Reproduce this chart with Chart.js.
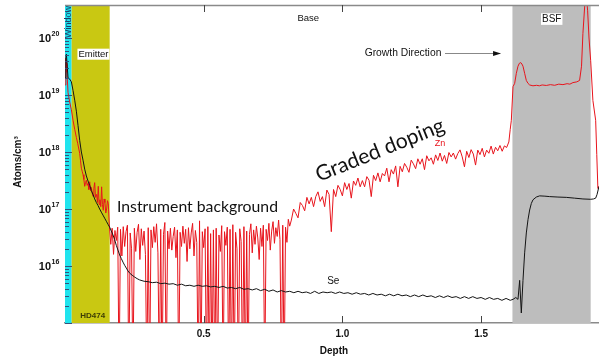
<!DOCTYPE html>
<html><head><meta charset="utf-8">
<script src="https://cdn.jsdelivr.net/npm/chart.js@4.4.1/dist/chart.umd.min.js"></script>
<style>html,body{margin:0;padding:0;background:#fff;overflow:hidden}canvas{display:block}</style>
</head><body>
<canvas id="c" width="599" height="360"></canvas>
<script>
// ---------------- DATA ----------------
const layerNames = ['Window', 'Emitter', 'Base', 'BSF'];
const layerStart = [0, 0.024, 0.161, 1.613];
const layerEnd   = [0.024, 0.161, 1.613, 1.895];

const xTickValues = [0.5, 1.0, 1.5];
const yTickExponents = [16, 17, 18, 19, 20];

// Se (black)
const seEmitDepth = [0.000,0.003,0.005,0.008,0.011,0.017,0.023,0.029,0.035,0.041,0.047,0.053,0.059,0.065,0.071,0.077,0.083,0.089,0.095,0.101,0.107,0.113,0.119,0.125,0.131,0.137,0.143,0.149,0.155,0.161,0.167,0.173,0.179,0.185,0.191,0.197,0.203,0.209,0.215,0.221,0.227,0.233,0.242,0.251,0.260,0.269];
const seEmitConc  = [2.0e19,4.5e19,5.2e19,3.2e19,2.0e19,1.9e19,1.7e19,1.2e19,8.1e18,5.2e18,2.9e18,1.6e18,1.0e18,7.2e17,5.0e17,3.8e17,3.1e17,2.6e17,2.1e17,1.8e17,1.5e17,1.3e17,1.15e17,1.0e17,8.8e16,7.8e16,6.9e16,6.1e16,5.4e16,4.8e16,4.1e16,3.5e16,2.9e16,2.3e16,1.9e16,1.56e16,1.35e16,1.17e16,1.03e16,9.2e15,8.2e15,7.5e15,6.9e15,6.4e15,6.0e15,5.7e15];
const seBaseStart = 0.285, seBaseStep = 0.015;
const seBaseConc = [
 5.4e15,5.3e15,5.1e15,5.2e15,4.9e15,5.0e15,4.8e15,4.9e15,4.6e15,4.8e15,
 4.5e15,4.6e15,4.4e15,4.6e15,4.4e15,4.5e15,4.3e15,4.4e15,4.2e15,4.4e15,
 4.1e15,4.2e15,4.0e15,4.2e15,3.9e15,4.0e15,3.8e15,4.0e15,3.7e15,3.9e15,
 3.6e15,3.8e15,3.5e15,3.7e15,3.5e15,3.6e15,3.4e15,3.6e15,3.4e15,3.5e15,
 3.3e15,3.6e15,3.3e15,3.5e15,3.4e15,3.5e15,3.3e15,3.5e15,3.3e15,3.4e15,
 3.2e15,3.4e15,3.2e15,3.3e15,3.1e15,3.3e15,3.1e15,3.2e15,3.0e15,3.2e15,
 3.0e15,3.2e15,3.0e15,3.1e15,2.9e15,3.1e15,2.9e15,3.1e15,2.9e15,3.0e15,
 2.8e15,3.0e15,2.8e15,3.0e15,2.8e15,2.9e15,2.7e15,2.9e15,2.7e15,2.9e15,
 2.7e15,2.8e15,2.6e15,2.8e15,2.6e15,2.7e15,2.5e15,2.7e15,2.5e15];
const seBsfDepth = [1.615,1.625,1.633,1.639,1.645,1.651,1.657,1.663,1.669,1.675,1.681,1.687,1.699,1.711,1.730,1.747,1.777,1.807,1.837,1.867,1.895,1.905,1.913,1.918,1.925];
const seBsfConc  = [2.6e15,2.8e15,2.6e15,5.6e15,1.5e15,5.6e15,1.7e16,3.8e16,6.5e16,9.6e16,1.25e17,1.45e17,1.62e17,1.7e17,1.68e17,1.65e17,1.62e17,1.6e17,1.55e17,1.5e17,1.48e17,1.5e17,1.55e17,1.8e17,2.5e17];

// Zn (red)
const znEmitDepth = [0.000,0.003,0.005,0.007,0.011,0.017,0.023,0.029,0.035,0.041,0.046,0.053,0.056,0.059,0.062,0.065,0.068,0.071,0.074,0.077,0.080,0.083,0.086,0.089,0.092,0.095,0.098,0.101,0.104,0.107,0.110,0.114,0.117,0.120,0.123,0.126,0.129,0.132,0.135,0.138,0.141,0.144,0.147,0.150,0.153,0.156];
const znEmitConc  = [1.5e19,4.4e19,3.6e19,2.5e19,1.1e19,7.5e18,5.5e18,3.6e18,2.5e18,1.8e18,1.4e18,9.5e17,7.0e17,5.2e17,4.6e17,4.0e17,3.3e17,2.5e17,2.9e17,3.2e17,2.6e17,2.8e17,2.2e17,3.0e17,2.1e17,2.4e17,1.9e17,1.66e17,2.3e17,2.9e17,1.6e17,1.8e17,1.3e17,2.5e17,1.2e17,1.45e17,1.1e17,2.45e17,1.2e17,9.5e16,1.5e17,1.3e17,8.5e16,1.0e17,1.4e17,1.26e17];
const znBgStart = 0.160, znBgStep = 0.005;
const znBgConc = [
 5.0e16,2.4e16,4.6e16,1.6e16,4.2e16,2.8e16,4.8e16,1e14,4.4e16,1.5e16,
 4.9e16,2.2e16,4.0e16,5.2e16,1e14,3.8e16,2.0e16,1e14,4.6e16,1.8e16,
 3.9e16,5.4e16,1.3e16,4.5e16,2.3e16,4.1e16,1.6e16,1e14,4.7e16,1e14,
 4.3e16,2.1e16,4.9e16,2.6e16,5.5e16,1.7e16,1e14,4.4e16,1e14,3.6e16,
 5.8e16,1e14,4.1e16,2.0e16,4.6e16,1.9e16,3.3e16,4.8e16,1.4e16,4.3e16,
 1e14,3.9e16,2.2e16,5.0e16,2.5e16,4.4e16,1.2e16,4.7e16,2.0e16,3.8e16,
 5.6e16,1.5e16,4.2e16,2.6e16,1e14,6.2e16,1e14,4.0e16,2.1e16,4.5e16,
 1e14,4.9e16,1e14,3.7e16,1e14,4.3e16,1e14,4.6e16,1e14,3.5e16,
 1.8e16,5.1e16,1e14,4.0e16,2.3e16,4.8e16,1e14,4.4e16,1e14,5.3e16,
 1e14,3.9e16,2.0e16,1e14,4.5e16,2.7e16,1e14,4.9e16,1e14,4.1e16,
 1e14,3.6e16,5.5e16,1.7e16,4.3e16,2.4e16,5.0e16,3.1e16,1.3e16,4.6e16,
 2.2e16,5.2e16,1e14,4.4e16,2.8e16,5.6e16,1.9e16,4.1e16,6.0e16,2.5e16,
 4.7e16,3.3e16,6.4e16,2.9e16,1e14,5.2e16,1e14,4.8e16,2.6e16,6.6e16,
 5.0e16];
const znGradStart = 0.816, znGradStep = 0.008;
const znGradConc = [
 6.4e16,1.0e17,8.4e16,7.0e16,1.3e17,1.15e17,9.3e16,1.6e17,1.23e17,1.6e17,
 1.1e17,1.65e17,2.0e17,1.36e17,1.65e17,1.1e17,2.15e17,1.8e17,4.0e16,2.2e17,
 1.65e17,2.6e17,2.2e17,1.7e17,2.9e17,2.2e17,2.8e17,1.55e17,3.1e17,2.6e17,
 3.5e17,2.45e17,3.15e17,2.45e17,3.7e17,3.2e17,1.65e17,3.9e17,3.15e17,4.3e17,
 3.0e17,4.2e17,3.8e17,5.2e17,3.0e17,4.9e17,4.1e17,5.7e17,2.45e17,5.6e17,
 4.5e17,6.3e17,5.4e17,4.4e17,7.2e17,6.2e17,5.1e17,7.6e17,6.1e17,7.6e17,
 4.9e17,8.6e17,7.0e17,7.9e17,6.1e17,8.9e17,7.1e17,9.6e17,6.9e17,8.7e17,
 6.3e17,9.8e17,8.2e17,9.6e17,7.5e17,9.4e17,1.09e18,8.2e17,5.5e17,1.03e18,
 8.0e17,1.1e18,9.2e17,5.9e17,1.08e18,9.0e17,1.16e18,8.2e17,1.08e18,9.5e17,
 1.27e18,9.2e17,1.21e18,1.05e18,1.3e18,1.03e18,1.28e18,1.2e18,1.5e18];
const znBsfDepth = [1.605,1.609,1.615,1.621,1.627,1.633,1.638,1.643,1.647,1.651,1.657,1.663,1.669,1.675,1.687,1.700,1.710,1.720,1.735,1.750,1.765,1.780,1.795,1.810,1.820,1.831,1.845,1.855,1.862,1.867,1.874,1.879,1.884,1.889,1.895,1.903,1.913,1.917,1.921,1.925];
const znBsfConc  = [2.5e18,3.6e18,1.4e19,1.6e19,2.4e19,3.2e19,3.6e19,3.7e19,3.5e19,3.2e19,2.4e19,1.8e19,1.6e19,1.5e19,1.45e19,1.48e19,1.45e19,1.5e19,1.47e19,1.52e19,1.48e19,1.55e19,1.52e19,1.58e19,1.55e19,1.65e19,1.7e19,1.8e19,3.2e19,1.2e20,4e20,6e20,3e20,1e20,4e19,8e18,3.6e18,9e17,2.3e17,2.5e17];

// ---------------- STYLE / LAYOUT ----------------
const layerColors = {Window:'#20e4ee', Emitter:'#c9c812', Base:null, BSF:'#bdbdbd'};
const FONT = '"Liberation Sans", Arial, Helvetica, sans-serif';
const BIG = 'Lato, "Open Sans", sans-serif';
const notes = [
  {text:'Window', d:0.0126, c:1.9e20, rot:-90, size:9, color:'#1d3d66'},
  {text:'Emitter', d:0.1027, c:5.2e19, size:9.5, box:true},
  {text:'Base', d:0.877, c:2.2e20, size:9.5},
  {text:'BSF', d:1.7545, c:2.15e20, size:10, box:true},
  {text:'Growth Direction', d:1.2185, c:5.45e19, size:10.3},
  {text:'HD474', d:0.0999, c:1.33e15, size:8, weight:'bold', color:'#3d3d05'},
  {text:'Zn', d:1.352, c:1.42e18, size:9, color:'#e8141c'},
  {text:'Se', d:0.967, c:5.3e15, size:10},
  {text:'Instrument background', d:0.4776, c:1.07e17, big:true, width:161},
  {text:'Graded doping', d:1.1355, c:1.08e18, big:true, width:137, rot:-22}
];
const arrowFrom = 1.37, arrowTo = 1.572, arrowAt = 5.45e19;

// ---------------- BUILD ----------------
const pairs = (ds, vs) => ds.map((d, i) => ({x: d, y: vs[i]}));
const grid = (start, step, vs) => vs.map((v, i) => ({x: +(start + i * step).toFixed(4), y: v}));
const seData = [...pairs(seEmitDepth, seEmitConc), ...grid(seBaseStart, seBaseStep, seBaseConc), ...pairs(seBsfDepth, seBsfConc)];
const znData = [...pairs(znEmitDepth, znEmitConc), ...grid(znBgStart, znBgStep, znBgConc), ...grid(znGradStart, znGradStep, znGradConc), ...pairs(znBsfDepth, znBsfConc)];

const layersPlugin = {
  id: 'layers',
  beforeDatasetsDraw(chart) {
    const {ctx, chartArea: a, scales: {x}} = chart;
    ctx.save();
    layerNames.forEach((n, i) => {
      const col = layerColors[n];
      if (!col) return;
      const x0 = x.getPixelForValue(layerStart[i]), x1 = x.getPixelForValue(layerEnd[i]);
      ctx.fillStyle = col;
      ctx.fillRect(x0, a.top, x1 - x0, a.bottom - a.top);
    });
    ctx.restore();
  }
};

const decorPlugin = {
  id: 'decor',
  afterDatasetsDraw(chart) {
    const {ctx, chartArea: a, scales: {x, y}} = chart;
    ctx.save();
    ctx.strokeStyle = '#8a8a8a'; ctx.lineWidth = 1.5;
    ctx.beginPath(); ctx.moveTo(a.left, a.top + 0.5); ctx.lineTo(a.right, a.top + 0.5); ctx.stroke();
    ctx.strokeStyle = '#34507a'; ctx.lineWidth = 1;
    for (let e = 15; e <= 20; e++) {
      for (let m = 1; m <= 9; m++) {
        const v = m * Math.pow(10, e);
        if (v < y.min || v > y.max) continue;
        const py = Math.round(y.getPixelForValue(v)) + 0.5;
        const len = m === 1 ? 7 : 4;
        ctx.beginPath(); ctx.moveTo(a.left, py); ctx.lineTo(a.left + len, py); ctx.stroke();
      }
    }
    ctx.strokeStyle = '#444';
    xTickValues.forEach(v => {
      const px = Math.round(x.getPixelForValue(v)) + 0.5;
      ctx.beginPath(); ctx.moveTo(px, a.bottom); ctx.lineTo(px, a.bottom - 7); ctx.stroke();
      ctx.beginPath(); ctx.moveTo(px, a.top); ctx.lineTo(px, a.top + 7); ctx.stroke();
    });
    notes.forEach(n => {
      const px = x.getPixelForValue(n.d), py = y.getPixelForValue(n.c);
      ctx.save();
      ctx.translate(px, py);
      if (n.rot) ctx.rotate(n.rot * Math.PI / 180);
      let size = n.size;
      let fam = FONT;
      if (n.big) {
        fam = BIG;
        ctx.font = '20px ' + fam;
        size = 20 * n.width / ctx.measureText(n.text).width;
      }
      ctx.font = (n.weight ? n.weight + ' ' : '') + size + 'px ' + fam;
      ctx.textAlign = 'center'; ctx.textBaseline = 'middle';
      if (n.box) {
        const w = ctx.measureText(n.text).width + 2;
        ctx.fillStyle = '#fff';
        ctx.fillRect(-w / 2, -size * 0.58, w, size * 1.16);
      }
      ctx.fillStyle = n.color || '#111';
      ctx.fillText(n.text, 0, 0);
      ctx.restore();
    });
    const ay = Math.round(y.getPixelForValue(arrowAt)) + 0.5;
    const ax0 = x.getPixelForValue(arrowFrom), ax1 = x.getPixelForValue(arrowTo);
    ctx.strokeStyle = '#888'; ctx.lineWidth = 1;
    ctx.beginPath(); ctx.moveTo(ax0, ay); ctx.lineTo(ax1 - 6, ay); ctx.stroke();
    ctx.fillStyle = '#111';
    ctx.beginPath(); ctx.moveTo(ax1, ay); ctx.lineTo(ax1 - 8, ay - 2.5); ctx.lineTo(ax1 - 8, ay + 2.5); ctx.closePath(); ctx.fill();
    ctx.fillStyle = '#111';
    yTickExponents.forEach(e => {
      const py = y.getPixelForValue(Math.pow(10, e));
      ctx.font = 'bold 11px ' + FONT;
      ctx.textAlign = 'right'; ctx.textBaseline = 'middle';
      ctx.fillText('10', 51, py + 0.5);
      ctx.font = 'bold 7px ' + FONT;
      ctx.textAlign = 'left';
      ctx.fillText(String(e), 51.5, py - 4);
    });
    ctx.font = 'bold 10px ' + FONT;
    ctx.textAlign = 'center'; ctx.textBaseline = 'middle';
    ctx.fillText('Depth', (a.left + a.right) / 2 + 2, 351);
    ctx.save();
    ctx.translate(18, 162); ctx.rotate(-Math.PI / 2);
    ctx.fillText('Atoms/cm³', 0, 0);
    ctx.restore();
    ctx.restore();
  }
};

new Chart(document.getElementById('c'), {
  type: 'line',
  data: {
    datasets: [
      {label: 'Se', data: seData, borderColor: '#141414', borderWidth: 1, pointRadius: 0, tension: 0, order: 0},
      {label: 'Zn', data: znData, borderColor: '#e8141c', borderWidth: 1, pointRadius: 0, tension: 0, order: 1}
    ]
  },
  options: {
    responsive: false, animation: false, devicePixelRatio: 1,
    layout: {padding: {top: 5, left: 0, right: 0, bottom: 0}},
    plugins: {legend: {display: false}, tooltip: {enabled: false}},
    scales: {
      x: {
        type: 'linear', min: 0, max: 1.925,
        afterBuildTicks: s => { s.ticks = xTickValues.map(v => ({value: v})); },
        afterFit: s => { s.height = 37; },
        grid: {display: false},
        border: {display: true, color: '#8a8a8a', width: 1.5},
        ticks: {callback: v => Number(v).toFixed(1), font: {family: FONT, size: 10, weight: 'bold'}, color: '#111', padding: -3, maxRotation: 0, autoSkip: false}
      },
      y: {
        type: 'logarithmic', min: 1e15, max: Math.pow(10, 20.579),
        afterFit: s => { s.width = 65; },
        grid: {display: false},
        border: {display: false},
        ticks: {display: false}
      }
    }
  },
  plugins: [layersPlugin, decorPlugin]
});
</script>
</body></html>
